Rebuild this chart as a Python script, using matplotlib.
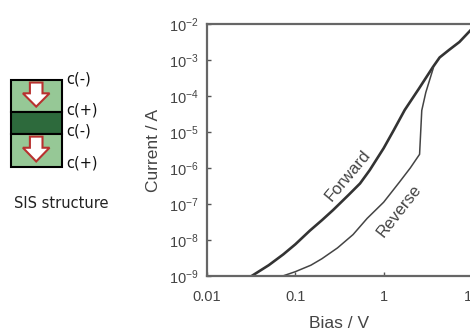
"""SIS structure sketch + forward / reverse I-V curve"""
import numpy as np
import matplotlib.pyplot as plt
from matplotlib.patches import Rectangle, Polygon

plt.rcParams['font.family'] = ['Liberation Sans', 'DejaVu Sans']
plt.rcParams['mathtext.default'] = 'regular'

# forward sweep: bias (V) and log10 of current (A)
fwd_bias = [0.032, 0.05, 0.073, 0.1, 0.146, 0.2, 0.267, 0.4, 0.54, 0.695,
            1.0, 1.3, 1.73, 2.5, 3.6, 4.3, 5.5, 7.2, 9.4, 11.0]
fwd_logi = [-9.0, -8.7, -8.4, -8.12, -7.74, -7.45, -7.17, -6.75, -6.43, -6.06,
            -5.45, -4.95, -4.39, -3.8, -3.2, -2.93, -2.72, -2.5, -2.2, -2.02]

# reverse sweep
rev_bias = [0.072, 0.1, 0.15, 0.2, 0.3, 0.45, 0.65, 1.0, 1.5, 2.0,
            2.55, 2.7, 3.0, 3.65]
rev_logi = [-9.0, -8.88, -8.7, -8.52, -8.22, -7.85, -7.4, -6.95, -6.4, -6.0,
            -5.62, -4.4, -3.9, -3.22]

x_ticks = [0.01, 0.1, 1, 10]
x_ticklabels = ['0.01', '0.1', '1', '10']
y_exps = [-9, -8, -7, -6, -5, -4, -3, -2]

# layer stack of the SIS sketch: (top, bottom, colour, arrow?)
layers = [(80, 111.7, '#96c896', True),
          (111.7, 134, '#2d6a3c', False),
          (134, 166.7, '#96c896', True)]
charge_labels = ['c(-)', 'c(+)', 'c(-)', 'c(+)']
label_y = [79, 110, 131, 163]

fig = plt.figure(figsize=(4.7, 3.33), dpi=100)

# ---- schematic, drawn in pixel coordinates
sk = fig.add_axes([0, 0, 1, 1])
sk.set_xlim(0, 470)
sk.set_ylim(333, 0)
sk.axis('off')

box_l, box_r = 10.7, 61.7
cx = (box_l + box_r) / 2
for top, bot, col, arrow in layers:
    sk.add_patch(Rectangle((box_l, top), box_r - box_l, bot - top,
                           facecolor=col, edgecolor='black', lw=1.5))
    if arrow:
        h = bot - top
        a_top = top + 0.08 * h
        a_head = top + 0.42 * h
        a_tip = top + 0.84 * h
        sw, hw = 6.3, 13.3
        pts = [(cx - sw, a_top), (cx + sw, a_top), (cx + sw, a_head),
               (cx + hw, a_head), (cx, a_tip), (cx - hw, a_head),
               (cx - sw, a_head)]
        sk.add_patch(Polygon(pts, closed=True, facecolor='white',
                             edgecolor='#b8312f', lw=1.5, joinstyle='miter'))

for lab, y in zip(charge_labels, label_y):
    sk.text(66, y, lab, fontsize=10.5, va='center', ha='left',
            family='DejaVu Sans', color='#111111')
sk.text(61, 203, 'SIS structure', fontsize=10.5, va='center', ha='center',
        family='DejaVu Sans', color='#222222')

# ---- I-V plot
ax = fig.add_axes([207 / 470, 1 - 276 / 333, 265 / 470, 252 / 333])
ax.plot(fwd_bias, np.power(10.0, fwd_logi), color='#333333', lw=1.9)
ax.plot(rev_bias, np.power(10.0, rev_logi), color='#444444', lw=1.1)
ax.set_xscale('log')
ax.set_yscale('log')
ax.set_xlim(0.01, 10)
ax.set_ylim(1e-9, 1e-2)

ax.set_xticks(x_ticks)
ax.set_xticklabels(x_ticklabels)
ax.set_yticks([10.0 ** e for e in y_exps])
ax.set_yticklabels(['10$^{%d}$' % e for e in y_exps])
ax.minorticks_off()
ax.tick_params(direction='in', length=3, width=1, colors='#555555',
               labelsize=10.5, labelcolor='#444444')
ax.tick_params(axis='x', pad=10)
ax.tick_params(axis='y', pad=6)

for s in ax.spines.values():
    s.set_color('#666666')
    s.set_linewidth(1.6)

ax.set_xlabel('Bias / V', fontsize=12.5, color='#444444', labelpad=9)
ax.set_ylabel('Current / A', fontsize=12.5, color='#444444', labelpad=6)

ax.text(0.39, 6.0e-7, 'Forward', rotation=50, fontsize=12, color='#444444',
        ha='center', va='center')
ax.text(1.48, 6.4e-8, 'Reverse', rotation=52, fontsize=12, color='#444444',
        ha='center', va='center')

fig.savefig('out.png', dpi=100)
